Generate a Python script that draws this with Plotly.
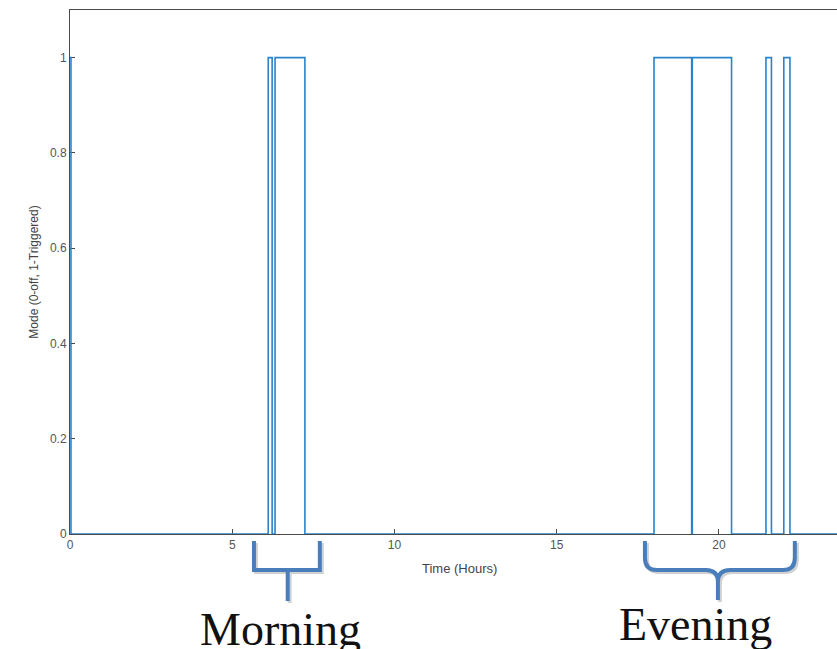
import plotly.graph_objects as go

# ---- data (hours, mode value held until next event) ----
event_hours = [0, 0.03, 6.11, 6.23, 6.32, 7.24, 18.0, 19.16, 19.18, 20.39,
               21.45, 21.62, 22.0, 22.19, 24]
mode_values = [1, 0, 1, 0, 1, 0, 1, 0, 1, 0, 1, 0, 1, 0, 0]

y_tick_vals = [0, 0.2, 0.4, 0.6, 0.8, 1]
y_tick_text = ["0", "0.2", "0.4", "0.6", "0.8", "1"]
x_tick_vals = [0, 5, 10, 15, 20]

period_labels = ["Morning", "Evening"]

# layout geometry
W, H = 837, 649
ML, MR, MT, MB = 70, 0, 10, 115
PW = W - ML - MR
PH = H - MT - MB
XMAX = 23.64
YMAX = 1.1


def px_hours(h):
    return h / XMAX


def py_below(dy):
    # dy pixels below the bottom of the plot area -> paper y
    return -dy / PH


fig = go.Figure()
fig.add_trace(go.Scatter(
    x=event_hours, y=mode_values, mode="lines", line_shape="hv",
    line=dict(color="#2a83cc", width=1.6), showlegend=False,
    hoverinfo="skip"))

axis_col = "#4a4a4a"
tick_font = dict(family="Liberation Sans, Arial, sans-serif", size=12, color="#555555")

fig.update_layout(
    width=W, height=H,
    margin=dict(l=ML, r=MR, t=MT, b=MB),
    paper_bgcolor="white", plot_bgcolor="white",
    xaxis=dict(range=[0, XMAX], tickvals=x_tick_vals, ticks="inside", ticklen=5,
               tickcolor=axis_col, showline=True, linecolor=axis_col, linewidth=1,
               mirror=True, showgrid=False, zeroline=False, tickfont=tick_font,
               layer="below traces"),
    yaxis=dict(range=[0, YMAX], tickvals=y_tick_vals, ticktext=y_tick_text,
               ticks="inside", ticklen=5, tickcolor=axis_col, showline=True,
               linecolor=axis_col, linewidth=1, mirror=False, showgrid=False,
               zeroline=False, tickfont=tick_font, layer="below traces",
               title=dict(text="Mode (0-off, 1-Triggered)", standoff=8,
                          font=dict(family="Liberation Sans, Arial, sans-serif",
                                    size=12, color="#444444"))),
)

# x axis title centred on the full 0-24 h axis
fig.add_annotation(x=12 / XMAX, y=py_below(34), xref="paper", yref="paper",
                   text="Time (Hours)", showarrow=False, yanchor="middle",
                   font=dict(family="Liberation Sans, Arial, sans-serif", size=13,
                             color="#444444"))

br_col = "#4a7ebb"
shadow_col = "rgba(0,0,0,0.18)"


def P(h, dy):
    return f"{px_hours(h):.5f},{py_below(dy):.5f}"


def add_path(path, color, width):
    fig.add_shape(type="path", path=path, xref="paper", yref="paper",
                  line=dict(color=color, width=width), layer="above")


def morning_bracket(l, r, c, o, s=0.0):
    return (f"M{P(l + s, 7 + o)} L{P(l + s, 36 + o)} L{P(r + s, 36 + o)} "
            f"L{P(r + s, 7 + o)} M{P(c + s, 36 + o)} L{P(c + s, 67 + o)}")


def curly_brace(l, r, c, d, o, s=0.0):
    return (f"M{P(l + s, 7 + o)} L{P(l + s, 24 + o)} Q{P(l + s, 36 + o)} {P(l + d + s, 36 + o)} "
            f"L{P(c - d + s, 36 + o)} Q{P(c + s, 36 + o)} {P(c + s, 48 + o)} L{P(c + s, 66 + o)} "
            f"M{P(r + s, 7 + o)} L{P(r + s, 24 + o)} Q{P(r + s, 36 + o)} {P(r - d + s, 36 + o)} "
            f"L{P(c + d + s, 36 + o)} Q{P(c + s, 36 + o)} {P(c + s, 48 + o)}")


mL, mR, mC = 5.67, 7.70, 6.71
eL, eR, eC = 17.72, 22.34, 19.97
d = 0.37
sh = 2.0 / 32.45

add_path(morning_bracket(mL, mR, mC, 2, sh), shadow_col, 4)
add_path(curly_brace(eL, eR, eC, d, 2, sh), shadow_col, 4)
add_path(morning_bracket(mL, mR, mC, 0), br_col, 4)
add_path(curly_brace(eL, eR, eC, d, 0), br_col, 4)

label_font = dict(family="Liberation Serif, Times New Roman, serif", size=46, color="#111111")
fig.add_annotation(x=px_hours(6.50), y=py_below(123), xref="paper", yref="paper",
                   text=period_labels[0], showarrow=False, yanchor="bottom",
                   xanchor="center", font=label_font)
fig.add_annotation(x=px_hours(19.29), y=py_below(118), xref="paper", yref="paper",
                   text=period_labels[1], showarrow=False, yanchor="bottom",
                   xanchor="center", font=label_font)

fig.write_html("out.html",
               config={"displayModeBar": False},
               post_script="document.body.style.margin='0';document.body.style.overflow='hidden';")
